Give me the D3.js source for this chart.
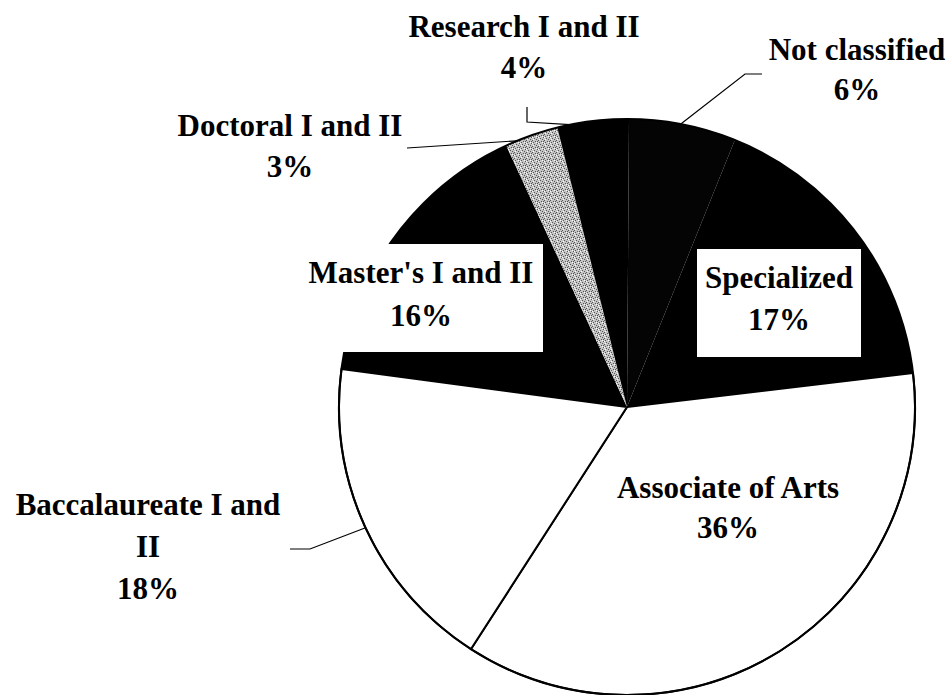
<!DOCTYPE html>
<html>
<head>
<meta charset="utf-8">
<script src="https://cdn.jsdelivr.net/npm/d3@7"></script>
<style>
  html, body { margin: 0; padding: 0; background: #fff; }
  svg { display: block; }
  .leader { fill: none; stroke: #000; stroke-width: 1.2; }
</style>
</head>
<body>
<svg id="chart"></svg>
<script>
// ---- data ----
const categories = ["Specialized", "Associate of Arts", "Baccalaureate I and II",
                    "Master's I and II", "Doctoral I and II", "Research I and II", "Not classified"];
const shares = [17, 36, 18, 16, 3, 4, 6];
const labelLines = [
  ["Specialized", "17%"],
  ["Associate of Arts", "36%"],
  ["Baccalaureate I and", "II", "18%"],
  ["Master's I and II", "16%"],
  ["Doctoral I and II", "3%"],
  ["Research I and II", "4%"],
  ["Not classified", "6%"]
];

// ---- layout (not data) ----
const width = 951, height = 695;
const cx = 627, cy = 407, radius = 288;
const startDeg = 22;
const fills = ["#000", "#fff", "#fff", "#000", "url(#stipple)", "#000", "#040404"];
const serif = "'Liberation Serif', 'Times New Roman', serif";

// label placement: x centre, first baseline, line step, optional white box, optional leader
const labelPos = [
  { x: 779, y: 288, step: 42, box: [697, 249, 164, 108] },
  { x: 728, y: 498, step: 40 },
  { x: 148, y: 515, step: 42, leader: [[290, 549], [310, 549]], at: 0.5 },
  { x: 421, y: 283, step: 43, box: [299, 244, 244, 108] },
  { x: 290, y: 136, step: 41, leader: [[407, 148]], at: 0.22 },
  { x: 524, y: 37, step: 41, leader: [[527, 107], [527, 122]], at: 0.18 },
  { x: 857, y: 60, step: 40, leader: [[762, 74], [745, 74]], at: 0.48 }
];

const svg = d3.select("#chart").attr("width", width).attr("height", height);

// stippled gray fill for the Doctoral wedge
const defs = svg.append("defs");
const pat = defs.append("pattern")
  .attr("id", "stipple").attr("patternUnits", "userSpaceOnUse")
  .attr("width", 6).attr("height", 6);
pat.append("rect").attr("width", 6).attr("height", 6).attr("fill", "#c4c4c4");
[[0,0],[3,1],[1,3],[4,4],[2,5],[5,2],[0,4]].forEach(([px, py]) =>
  pat.append("rect").attr("x", px).attr("y", py).attr("width", 1).attr("height", 1).attr("fill", "#555"));
[[2,2],[5,5],[1,0]].forEach(([px, py]) =>
  pat.append("rect").attr("x", px).attr("y", py).attr("width", 1).attr("height", 1).attr("fill", "#fff"));

const rad = startDeg * Math.PI / 180;
const pie = d3.pie().sort(null).value(d => d)
  .startAngle(rad).endAngle(rad + 2 * Math.PI);
const arcs = pie(shares);
const arc = d3.arc().innerRadius(0).outerRadius(radius);

const g = svg.append("g").attr("transform", `translate(${cx},${cy})`);
g.selectAll("path.slice").data(arcs).join("path")
  .attr("class", "slice")
  .attr("d", arc)
  .attr("fill", (d, i) => fills[i])
  .attr("stroke", (d, i) => fills[i] === "#fff" ? "#000" : "none")
  .attr("stroke-width", 2);

// outline
g.append("circle").attr("r", radius).attr("fill", "none")
  .attr("stroke", "#000").attr("stroke-width", 2);

// leaders
arcs.forEach((d, i) => {
  const lp = labelPos[i];
  if (!lp.leader) return;
  const a = d.startAngle + (d.endAngle - d.startAngle) * lp.at;
  const end = [cx + radius * Math.sin(a), cy - radius * Math.cos(a)];
  svg.append("path").attr("class", "leader")
    .attr("d", d3.line()(lp.leader.concat([end])));
});

// labels
labelPos.forEach((lp, i) => {
  if (lp.box) {
    svg.append("rect")
      .attr("x", lp.box[0]).attr("y", lp.box[1])
      .attr("width", lp.box[2]).attr("height", lp.box[3])
      .attr("fill", "#fff");
  }
  const t = svg.append("text")
    .attr("text-anchor", "middle")
    .attr("font-family", serif)
    .attr("font-weight", "bold")
    .attr("font-size", 31)
    .attr("fill", "#000");
  labelLines[i].forEach((s, k) => {
    t.append("tspan").attr("x", lp.x).attr("y", lp.y + k * lp.step).text(s);
  });
});
</script>
</body>
</html>
